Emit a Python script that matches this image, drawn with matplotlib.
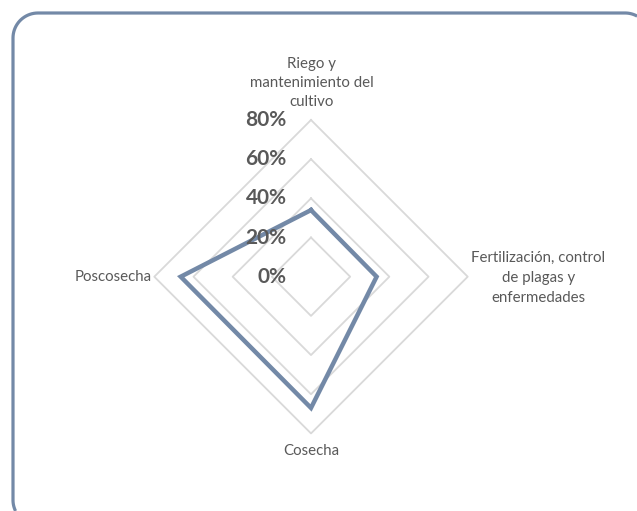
import numpy as np
import matplotlib
matplotlib.use("Agg")
import matplotlib.pyplot as plt
from matplotlib.lines import Line2D

# data (share of responses per stage)
categories = ["Riego y\nmantenimiento del\ncultivo",
              "Fertilización, control\nde plagas y\nenfermedades",
              "Cosecha",
              "Poscosecha"]
values = [0.34, 0.335, 0.67, 0.665]
ring_levels = [0.2, 0.4, 0.6, 0.8]
tick_levels = [0.0, 0.2, 0.4, 0.6, 0.8]
tick_labels = ["0%", "20%", "40%", "60%", "80%"]

line_col = "#7389a7"
grid_col = "#d9d9d9"
text_col = "#595959"

plt.rcParams["font.family"] = ["Lato", "DejaVu Sans"]

fig = plt.figure(figsize=(6.37, 5.11), dpi=100)
ax = fig.add_axes([0.02, 0.02, 0.96, 0.96])
ax.set_xlim(-1.5225, 1.5991)
ax.set_ylim(-1.1439, 1.3603)
ax.axis("off")

# clockwise from the top
angles = np.pi / 2 - np.arange(len(categories)) * 2 * np.pi / len(categories)
cx, cy = np.cos(angles), np.sin(angles)

def closed(a):
    return np.append(a, a[0])

for lv in ring_levels:
    ax.plot(closed(cx * lv), closed(cy * lv), color=grid_col, lw=1.3, zorder=1)

v = np.array(values)
ax.plot(closed(cx * v), closed(cy * v), color=line_col, lw=3.2,
        solid_joinstyle="miter", zorder=3)

for lv, lab in zip(tick_levels, tick_labels):
    ax.text(-0.125, lv, lab, ha="right", va="center", fontsize=15,
            fontweight="bold", color=text_col, zorder=4)

# category labels
fs = 10.8
ax.text(0.005, 0.855, categories[0], ha="center", va="bottom",
        fontsize=fs, color=text_col, linespacing=1.45)
ax.text(1.16, -0.005, categories[1], ha="center", va="center",
        fontsize=fs, color=text_col, linespacing=1.55)
ax.text(0.0, -0.855, categories[2], ha="center", va="top",
        fontsize=fs, color=text_col)
ax.text(-0.815, 0.0, categories[3], ha="right", va="center",
        fontsize=fs, color=text_col)

# rounded chart-area border, only the visible part (pixels from bottom-left)
W, H = 637, 511
l, t, rad = 13, 498, 25
def arc(xc, yc, a0, a1):
    a = np.radians(np.linspace(a0, a1, 20))
    return xc + rad * np.cos(a), yc + rad * np.sin(a)
a_bl = arc(l + rad, -14 + rad, 206, 180)
a_tl = arc(l + rad, t - rad, 180, 90)
a_tr = arc(625, t - rad, 90, 61)
fx = np.concatenate([a_bl[0], a_tl[0], a_tr[0]])
fy = np.concatenate([a_bl[1], a_tl[1], a_tr[1]])
fig.add_artist(Line2D(fx / W, fy / H, transform=fig.transFigure,
                      color=line_col, lw=2.3, solid_capstyle="butt"))

fig.savefig("out.png", dpi=100)
